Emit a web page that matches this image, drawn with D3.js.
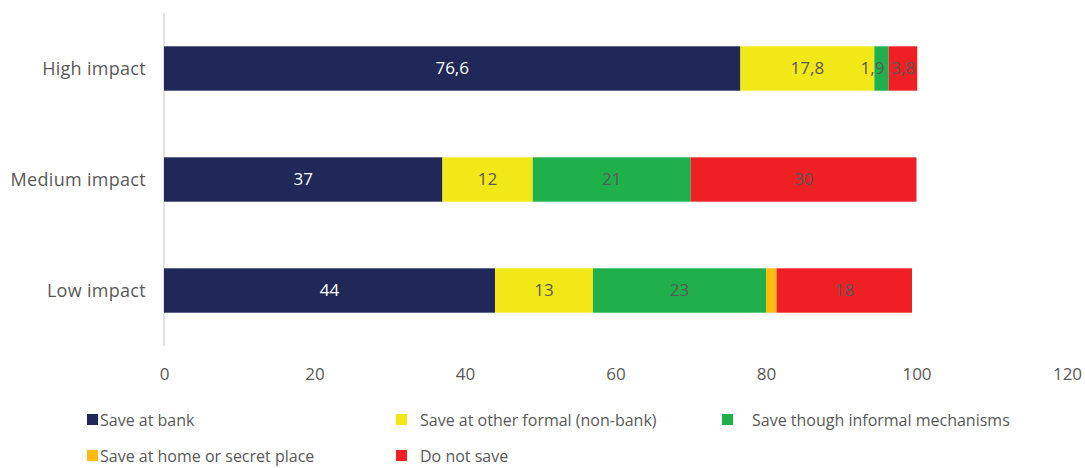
<!DOCTYPE html>
<html>
<head>
<meta charset="utf-8">
<script src="https://cdn.jsdelivr.net/npm/d3@7"></script>
<style>
  html, body { margin: 0; padding: 0; background: #fff; }
  svg { display: block; font-family: "Open Sans", sans-serif; }
</style>
</head>
<body>
<svg id="chart" width="1085" height="468"></svg>
<script>
// Savings behaviour by impact group (percent)
const categories = ["High impact", "Medium impact", "Low impact"];
const seriesNames = ["Save at bank", "Save at other formal (non-bank)", "Save though informal mechanisms", "Save at home or secret place", "Do not save"];
const bankValues     = [76.6, 37, 44];
const formalValues   = [17.8, 12, 13];
const informalValues = [1.9, 21, 23];
const homeValues     = [0, 0, 1.4];
const noSaveValues   = [3.8, 30, 18];
const valueLabels = [
  ["76,6", "17,8", "1,9", null, "3,8"],
  ["37", "12", "21", null, "30"],
  ["44", "13", "23", null, "18"]
];
const xTicks = [0, 20, 40, 60, 80, 100, 120];
const colors = ["#1f2857", "#f2e817", "#20b04b", "#fdbb12", "#ee2024"];
const labelColors = ["#ffffff", "#595959", "#595959", "#595959", "#595959"];

const allSeries = [bankValues, formalValues, informalValues, homeValues, noSaveValues];
const rows = categories.map((c, i) => {
  const r = { category: c };
  seriesNames.forEach((s, j) => r[s] = allSeries[j][i]);
  return r;
});

const svg = d3.select("#chart");
const margin = { left: 164, top: 13 };

const x = d3.scaleLinear().domain([0, 120]).range([margin.left, 1067]);
const y = d3.scaleBand().domain(categories).range([margin.top, 346]).paddingInner(0.6).paddingOuter(0.3);

const stacked = d3.stack().keys(seriesNames)(rows);

// vertical category axis line
svg.append("line")
  .attr("x1", x(0)).attr("x2", x(0))
  .attr("y1", margin.top).attr("y2", 346)
  .attr("stroke", "#d9d9d9").attr("stroke-width", 1.5);

// stacked bars
const layer = svg.selectAll("g.layer").data(stacked).join("g")
  .attr("class", "layer")
  .attr("fill", (d, i) => colors[i]);

layer.selectAll("rect").data(d => d).join("rect")
  .attr("x", d => x(d[0]))
  .attr("y", d => y(d.data.category))
  .attr("width", d => Math.max(0, x(d[1]) - x(d[0])))
  .attr("height", y.bandwidth());

// value labels; the narrow label in a thin segment is nudged left to clear its neighbour
stacked.forEach((s, j) => {
  s.forEach((d, i) => {
    const txt = valueLabels[i][j];
    if (!txt) return;
    let cx = (x(d[0]) + x(d[1])) / 2;
    const segW = x(d[1]) - x(d[0]);
    if (segW < 20 && j < 4) cx -= 9;
    svg.append("text")
      .attr("x", cx)
      .attr("y", y(d.data.category) + y.bandwidth() / 2)
      .attr("dy", "0.35em")
      .attr("text-anchor", "middle")
      .attr("font-size", 17)
      .attr("fill", labelColors[j])
      .text(txt);
  });
});

// category labels
svg.selectAll("text.cat").data(categories).join("text")
  .attr("class", "cat")
  .attr("x", 146)
  .attr("y", d => y(d) + y.bandwidth() / 2)
  .attr("dy", "0.35em")
  .attr("text-anchor", "end")
  .attr("font-size", 18)
  .attr("letter-spacing", 0.3)
  .attr("fill", "#595959")
  .text(d => d);

// x axis tick labels
const xAxis = d3.axisBottom(x).tickValues(xTicks).tickSize(0).tickPadding(0);
const gx = svg.append("g").attr("transform", "translate(0,368)").call(xAxis);
gx.select(".domain").remove();
gx.selectAll("text")
  .attr("font-family", "Open Sans, sans-serif")
  .attr("font-size", 17)
  .attr("fill", "#595959");

// legend
const legendPos = [
  { sx: 87, tx: 100, y: 420 },
  { sx: 396, tx: 420, y: 420 },
  { sx: 722, tx: 752, y: 420 },
  { sx: 87, tx: 100, y: 456 },
  { sx: 396, tx: 420, y: 456 }
];
const legend = svg.selectAll("g.leg").data(seriesNames).join("g").attr("class", "leg");
legend.append("rect")
  .attr("x", (d, i) => legendPos[i].sx)
  .attr("y", (d, i) => legendPos[i].y - 6)
  .attr("width", 11).attr("height", 11)
  .attr("fill", (d, i) => colors[i]);
legend.append("text")
  .attr("x", (d, i) => legendPos[i].tx)
  .attr("y", (d, i) => legendPos[i].y)
  .attr("dy", "0.35em")
  .attr("font-size", 16)
  .attr("fill", "#595959")
  .text(d => d);
</script>
</body>
</html>
